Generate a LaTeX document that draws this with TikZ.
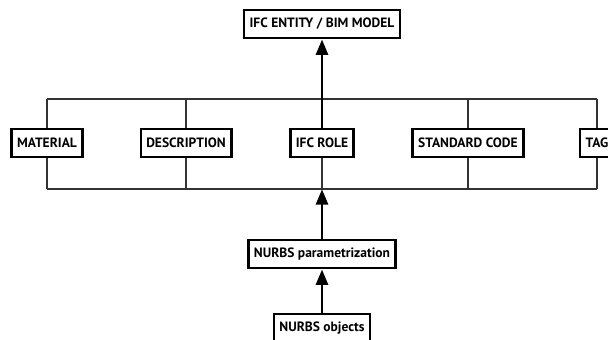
\documentclass[tikz,border=0pt]{standalone}
\usepackage{fontspec}
\setsansfont{PT Sans}
\usepackage{tikz}
\usetikzlibrary{positioning}
\usetikzlibrary{arrows}

\begin{document}
\begin{tikzpicture}[x=1pt,y=-1pt,>=triangle 45,
	box/.style={draw,line width=2.5pt,inner xsep=5.5pt,minimum height=28pt,
		font=\sffamily\bfseries\fontsize{13.5}{15}\selectfont},
	rail/.style={line width=1.2pt,draw=black!80},
	up/.style={->,line width=2.6pt,shorten >=0.5pt}]
	
	\useasboundingbox (0,0) rectangle (608,340);
	\clip (0,0) rectangle (608,340);
	
	\coordinate (topline) at (0,99);
	\coordinate (botline) at (0,189);
	
	\node[box] (bim) at (322,24) {IFC ENTITY / BIM MODEL};
	\node[box] (mat) at (47,143) {MATERIAL};
	\node[box] (desc) at (186,143) {DESCRIPTION};
	\node[box] (role) at (322,143) {IFC ROLE};
	\node[box] (std) at (468,143) {STANDARD CODE};
	\node[box] (tag) at (597,143) {TAG};
	\node[box] (param) at (322,254) {NURBS parametrization};
	\node[box] (obj) at (322,328) {NURBS objects};
	
	% rails between the attribute boxes
	\draw[rail] (mat.north |- topline) -- (tag.north |- topline);
	\draw[rail] (mat.south |- botline) -- (tag.south |- botline);
	\foreach \n in {mat,desc,role,std,tag}{
		\draw[rail] (\n.north) -- (\n.north |- topline);
		\draw[rail] (\n.south) -- (\n.south |- botline);
	}
	
	\draw[up] (role.north) -- (bim.south);
	\draw[up] (param.north) -- (param.north |- botline);
	\draw[up] (obj.north) -- (param.south);
\end{tikzpicture}
\end{document}
